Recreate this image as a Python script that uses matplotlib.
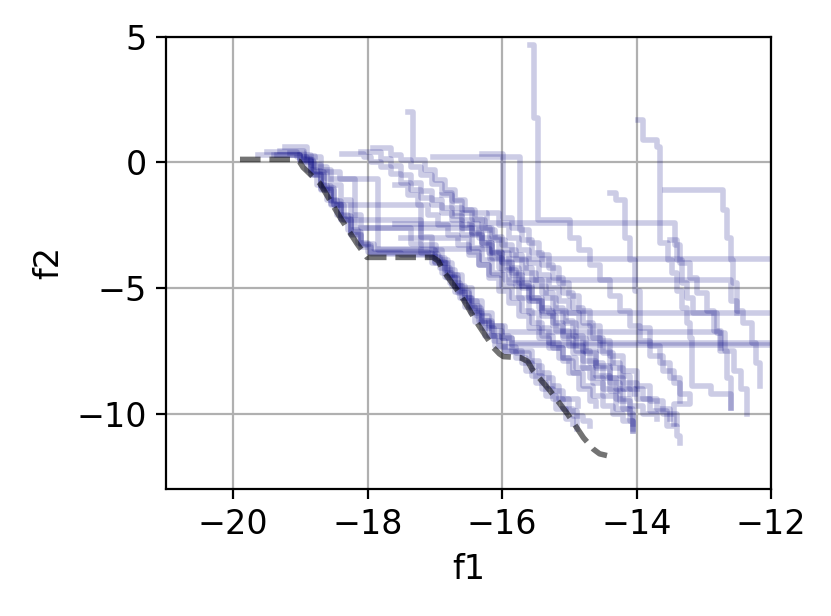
import matplotlib
matplotlib.use("Agg")
import matplotlib.pyplot as plt

# reference Pareto front (dashed)
front_f1 = [-19.90, -19.11, -19.02, -18.96, -18.71, -18.41, -18.16, -18.06, -18.01, -17.03,
            -16.95, -16.88, -16.63, -16.37, -16.13, -16.04, -15.98, -15.73, -15.62, -15.54,
            -15.29, -15.03, -14.79, -14.64, -14.55, -14.44]
front_f2 = [0.12, 0.12, 0.05, -0.20, -0.84, -2.19, -3.23, -3.60, -3.78, -3.78,
            -3.92, -4.30, -5.22, -6.40, -7.37, -7.62, -7.73, -7.77, -7.92, -8.29,
            -9.08, -10.00, -10.96, -11.42, -11.60, -11.67]

# non-dominated sets from the individual runs (f1, f2)
runs_f1 = [
    [-19.63, -19.00, -18.85, -18.70, -18.55, -18.40, -18.25, -18.10, -17.95, -16.95, -16.80,
     -16.65, -16.50, -16.35, -16.20, -16.05, -15.80, -15.60, -15.45, -15.30, -15.15, -15.00, -14.88],
    [-19.50, -19.05, -18.90, -18.75, -18.60, -18.45, -18.30, -18.15, -18.00, -17.10, -16.92,
     -16.77, -16.62, -16.47, -16.30, -16.12, -15.95, -15.55, -15.40, -15.25, -15.10, -14.87],
    [-19.23, -18.90, -18.78, -18.60, -17.85, -17.00, -16.82, -16.66, -16.50, -16.32, -16.15,
     -15.90, -11.00],
    [-19.30, -18.95, -18.82, -18.65, -18.50, -17.20, -16.98, -16.85, -16.70, -16.55, -16.38,
     -16.20, -15.95, -12.76, -12.66, -12.60],
    [-19.00, -18.85, -18.70, -18.41, -18.19, -16.18, -16.05, -15.90, -15.75, -15.60, -15.45,
     -15.30, -11.00],
    [-19.40, -19.00, -18.85, -18.70, -18.55, -18.40, -18.25, -18.10, -17.90, -16.18, -11.00],
    [-18.38, -18.05, -17.95, -17.80, -17.65, -17.50, -17.35, -17.20, -17.05, -16.90, -16.75,
     -16.60, -16.45, -16.30, -16.15, -16.00, -15.85, -15.70, -15.55, -15.40, -15.25, -15.10,
     -14.95, -14.80, -14.65, -14.50, -14.30, -14.10, -14.05],
    [-17.92, -17.65, -17.50, -17.35, -17.20, -17.05, -16.90, -16.75, -16.60, -16.45, -16.30,
     -16.15, -16.00, -15.85, -15.70, -15.55, -15.40, -15.25, -15.10, -14.95, -14.80, -14.60,
     -14.40, -14.20, -14.02],
    [-17.40, -17.32, -17.15, -17.00, -16.85, -16.70, -16.55, -16.40, -16.25, -16.10, -15.95,
     -15.80, -15.65, -15.50, -15.35, -15.20, -15.05, -14.90, -14.75, -14.60, -14.40, -14.25,
     -14.10, -14.05],
    [-17.03, -15.73, -15.60, -15.45, -15.30, -15.15, -15.00, -14.85, -14.70, -14.55, -14.40,
     -14.20, -14.00, -13.80, -13.60, -13.40],
    [-16.30, -15.98, -15.85, -15.70, -15.55, -15.40, -15.25, -15.10, -14.95, -14.80, -14.65,
     -14.50, -14.35, -14.20, -14.00, -13.80, -13.55, -13.40, -13.35],
    [-15.58, -15.52, -15.46, -14.99, -14.85, -14.70, -14.55, -14.40, -14.25, -14.10, -13.95,
     -13.80, -13.60, -13.45, -13.35],
    [-13.98, -13.90, -13.69, -13.65, -13.53, -13.47, -13.40, -13.32, -13.25, -13.20, -13.18,
     -12.90, -12.60],
    [-13.57, -12.72, -12.66, -12.60, -12.56, -12.50, -12.41, -12.28, -12.23, -12.16],
    [-14.39, -14.30, -14.17, -14.10, -14.02, -13.95, -13.80, -13.65, -13.50, -13.35, -13.20,
     -13.45],
    [-13.50, -13.40, -13.32, -13.25, -13.16, -12.80, -12.68, -12.55, -12.45, -12.35],
    [-16.48, -16.35, -16.20, -16.05, -15.90, -15.75, -15.60, -15.45, -15.30, -15.15, -15.00,
     -14.85, -14.70, -14.60],
    [-16.70, -16.22, -13.43, -13.35, -13.20, -13.10, -12.95, -12.85, -12.75],
    [-16.90, -16.75, -16.60, -16.45, -16.30, -16.15, -16.00, -15.80, -15.60, -15.40, -15.20,
     -15.00, -14.80, -14.60, -14.40, -14.20, -14.05],
    [-17.60, -17.40, -17.25, -17.10, -16.95, -16.80, -16.65, -16.50, -16.35, -16.20, -15.95,
     -12.60, -12.50],
    [-19.15, -18.95, -18.80, -18.65, -18.50, -18.35, -17.20, -17.05, -16.90, -16.75, -16.60,
     -16.45, -16.30, -16.15, -16.00, -15.85, -15.70, -15.55, -15.40, -15.25, -15.10, -14.95,
     -14.80, -14.70],
    [-18.90, -18.70, -18.55, -18.40, -18.25, -18.10, -17.35, -17.20, -17.05, -16.90, -16.75,
     -16.60, -16.45, -16.30, -16.15, -16.00, -15.85, -11.00],
    [-17.60, -16.60, -16.45, -16.30, -16.15, -16.00, -15.85, -15.70, -15.55, -15.40, -15.25,
     -15.10, -14.95, -14.80, -14.65, -14.50, -14.35, -14.20, -14.05],
    [-16.20, -16.05, -15.90, -15.75, -15.60, -15.45, -15.30, -15.15, -15.00, -14.85, -14.70,
     -14.55, -14.40, -14.25, -14.10, -13.90, -13.70, -13.50],
    [-17.50, -16.50, -16.35, -16.20, -16.05, -15.90, -15.75, -15.60, -15.45, -15.30, -15.10,
     -14.90, -14.70, -14.50, -14.30, -14.10, -13.90, -13.70],
    [-19.35, -19.00, -18.85, -18.70, -18.55, -18.40, -18.25, -18.10, -17.95, -17.50, -17.00,
     -16.85, -16.70, -16.55, -16.40, -16.25, -16.10, -15.95, -15.80, -15.65, -15.50, -15.35,
     -15.20, -15.05, -14.95],
    [-18.10, -17.80, -17.65, -17.50, -17.35, -17.20, -17.05, -16.90, -16.75, -16.60, -16.45,
     -16.30, -16.15, -16.00, -15.85, -15.70, -15.55, -15.40, -15.25, -15.10, -14.90, -14.70,
     -14.50, -14.30, -14.10],
]
runs_f2 = [
    [0.28, 0.05, -0.50, -1.10, -1.70, -2.30, -2.90, -3.35, -3.65, -3.90, -4.50,
     -5.10, -5.70, -6.30, -6.90, -7.35, -7.60, -7.90, -8.40, -8.90, -9.40, -9.90, -10.60],
    [0.40, 0.20, -0.30, -0.90, -1.50, -2.10, -2.70, -3.20, -3.55, -3.75, -4.20,
     -4.80, -5.40, -6.00, -6.60, -7.10, -7.50, -8.10, -8.60, -9.10, -9.40, -9.70],
    [0.60, 0.25, -0.20, -0.64, -3.50, -4.00, -4.60, -5.20, -5.80, -6.40, -6.90,
     -7.20, -9.00],
    [0.45, 0.10, -0.40, -1.00, -1.71, -3.30, -3.80, -4.30, -4.90, -5.50, -6.10,
     -6.50, -6.77, -7.50, -8.60, -9.76],
    [0.30, -0.10, -0.40, -0.64, -2.63, -3.00, -3.60, -4.20, -4.80, -5.40, -5.80,
     -6.00, -8.00],
    [0.30, 0.15, -0.35, -0.95, -1.55, -2.15, -2.75, -3.25, -3.43, -3.83, -6.00],
    [0.33, 0.20, 0.00, -0.20, -0.45, -0.80, -1.10, -1.40, -1.70, -2.00, -2.30,
     -2.60, -2.90, -3.20, -3.60, -4.00, -4.50, -5.00, -5.50, -6.00, -6.50, -7.00,
     -7.60, -8.20, -8.80, -9.30, -9.80, -10.30, -10.70],
    [0.56, 0.30, 0.10, -0.20, -0.50, -0.85, -1.20, -1.55, -1.90, -2.25, -2.60,
     -2.95, -3.30, -3.70, -4.20, -4.70, -5.20, -5.80, -6.30, -6.90, -7.50, -8.10,
     -8.60, -9.00, -9.20],
    [2.00, 0.10, -0.30, -0.70, -1.10, -1.50, -1.90, -2.30, -2.70, -3.10, -3.50,
     -3.90, -4.40, -4.90, -5.40, -5.90, -6.40, -7.00, -7.60, -8.20, -8.80, -9.50,
     -10.00, -10.40],
    [0.20, -2.70, -3.20, -3.70, -4.20, -4.80, -5.30, -5.90, -6.50, -7.10, -7.70,
     -8.30, -8.90, -9.50, -10.00, -10.40],
    [0.35, -2.20, -2.60, -3.10, -3.60, -4.10, -4.60, -5.20, -5.80, -6.40, -7.00,
     -7.60, -8.20, -8.80, -9.40, -9.90, -10.50, -10.90, -11.15],
    [4.66, 1.75, -2.30, -3.00, -3.50, -4.10, -4.70, -5.30, -5.90, -6.50, -7.10,
     -7.70, -8.30, -8.80, -9.50],
    [1.67, 0.88, 0.60, -3.20, -3.90, -4.40, -5.10, -5.80, -6.40, -7.00, -8.90,
     -9.20, -9.76],
    [-1.10, -1.90, -3.00, -3.90, -4.80, -5.90, -6.40, -7.20, -8.00, -8.90],
    [-1.20, -1.50, -3.00, -3.90, -5.10, -6.60, -7.30, -8.00, -8.60, -9.20, -9.60,
     -10.40],
    [-3.10, -3.90, -4.80, -5.40, -6.00, -6.80, -7.50, -8.30, -9.00, -10.00],
    [-2.45, -3.00, -3.60, -4.20, -4.80, -5.40, -6.00, -6.60, -7.20, -7.80, -8.40,
     -9.00, -9.50, -9.70],
    [-2.00, -2.43, -3.30, -4.00, -4.60, -5.20, -5.90, -6.70, -7.40],
    [-1.30, -1.80, -2.30, -2.80, -3.30, -3.80, -4.30, -4.90, -5.50, -6.10, -6.70,
     -7.30, -7.90, -8.50, -9.10, -9.80, -10.70],
    [-0.90, -1.30, -1.70, -2.10, -2.50, -2.90, -3.30, -3.70, -4.10, -4.50, -4.70,
     -5.50, -6.00],
    [0.36, 0.00, -0.50, -1.10, -1.70, -2.30, -2.98, -3.50, -4.00, -4.50, -5.00,
     -5.50, -6.00, -6.50, -7.00, -7.50, -8.00, -8.50, -9.00, -9.40, -9.80, -10.10,
     -10.30, -10.50],
    [0.20, -0.30, -0.90, -1.50, -2.10, -2.60, -3.24, -3.60, -4.00, -4.40, -4.90,
     -5.40, -5.90, -6.30, -6.70, -7.00, -7.25, -9.00],
    [-2.45, -2.90, -3.40, -3.90, -4.40, -4.90, -5.40, -5.90, -6.40, -6.90, -7.40,
     -7.90, -8.40, -8.90, -9.30, -9.70, -10.00, -10.30, -10.60],
    [-2.00, -2.50, -3.00, -3.50, -4.00, -4.50, -5.00, -5.50, -6.00, -6.50, -7.00,
     -7.50, -8.00, -8.50, -9.00, -9.40, -9.80, -10.20],
    [-3.00, -3.55, -4.10, -4.60, -5.10, -5.60, -6.10, -6.60, -7.00, -7.40, -7.80,
     -8.20, -8.60, -9.00, -9.40, -9.70, -10.00, -10.20],
    [0.30, 0.10, -0.45, -1.05, -1.65, -2.25, -2.85, -3.30, -3.60, -3.70, -3.95,
     -4.55, -5.15, -5.75, -6.35, -6.90, -7.30, -7.55, -7.80, -8.30, -8.80, -9.30,
     -9.80, -10.20, -10.40],
    [0.40, 0.15, -0.15, -0.50, -0.80, -1.15, -1.50, -1.80, -2.15, -2.50, -2.85,
     -3.20, -3.55, -3.95, -4.40, -4.90, -5.40, -5.90, -6.40, -6.90, -7.50, -8.00,
     -8.60, -9.00, -9.20],
]

plt.rcParams['font.size'] = 12
fig = plt.figure(figsize=(4.155, 3.08), dpi=200)
ax = fig.add_axes([0.1998, 0.2062, 0.728, 0.734])

for f1, f2 in zip(runs_f1, runs_f2):
    ax.step(f1, f2, where='post', color='navy', alpha=0.2, linewidth=2.0)

ax.plot(front_f1, front_f2, color='k', linestyle='--', linewidth=2, alpha=0.55)

ax.set_xlim(-21, -12)
ax.set_ylim(-13, 5)
ax.set_xticks([-20, -18, -16, -14, -12])
ax.set_yticks([-10, -5, 0, 5])
ax.set_xlabel('f1')
ax.set_ylabel('f2')
ax.grid(True)
ax.set_axisbelow(True)

fig.savefig('out.png', dpi=200)
